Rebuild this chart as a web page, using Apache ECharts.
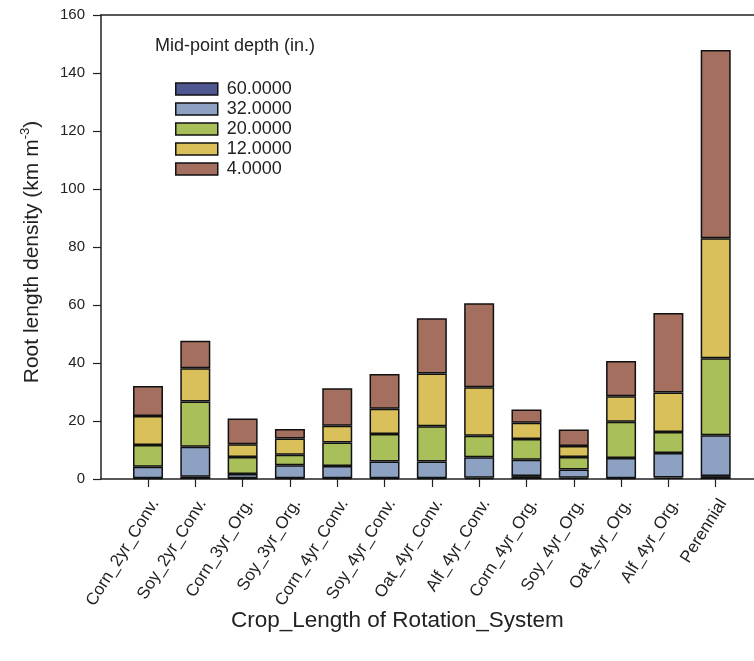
<!DOCTYPE html>
<html>
<head>
<meta charset="utf-8">
<script src="https://cdn.jsdelivr.net/npm/echarts@6/dist/echarts.min.js"></script>
<style>
  html, body { margin: 0; padding: 0; background: #fff; }
  #chart { width: 754px; height: 661px; }
</style>
</head>
<body>
<div id="chart"></div>
<script>
// Crop / rotation systems along the x axis
const categories = [
  'Corn_2yr_Conv.', 'Soy_2yr_Conv.', 'Corn_3yr_Org.', 'Soy_3yr_Org.',
  'Corn_4yr_Conv.', 'Soy_4yr_Conv.', 'Oat_4yr_Conv.', 'Alf_4yr_Conv.',
  'Corn_4yr_Org.', 'Soy_4yr_Org.', 'Oat_4yr_Org.', 'Alf_4yr_Org.', 'Perennial'
];

// Root length density (km m^-3) per mid-point depth layer, stacked bottom to top
const depth60 = [0.3, 0.8, 0.3, 0.3, 0.3, 0.3, 0.3, 0.4, 1.0, 0.4, 0.3, 0.5, 1.0];
const depth32 = [3.9, 10.3, 1.4, 4.4, 4.2, 5.7, 5.7, 7.1, 5.6, 2.9, 6.9, 8.5, 14.1];
const depth20 = [7.5, 15.6, 5.9, 3.7, 8.1, 9.5, 12.2, 7.4, 7.2, 4.3, 12.5, 7.2, 26.5];
const depth12 = [10.0, 11.5, 4.4, 5.6, 5.8, 8.7, 18.2, 16.7, 5.6, 3.8, 8.8, 13.6, 41.4];
const depth4  = [10.4, 9.5, 8.9, 3.2, 12.9, 12.0, 19.0, 29.0, 4.6, 5.7, 12.2, 27.4, 64.9];

const yMin = 0, yMax = 160, yStep = 20;

const layers = [
  { name: '60.0000', values: depth60, color: '#4e5790' },
  { name: '32.0000', values: depth32, color: '#8da2c2' },
  { name: '20.0000', values: depth20, color: '#a9bf5a' },
  { name: '12.0000', values: depth12, color: '#d9c05a' },
  { name: '4.0000',  values: depth4,  color: '#a46f5f' }
];

const font = 'Liberation Sans, Arial, sans-serif';
const ink = '#222';

const chart = echarts.init(document.getElementById('chart'), null, { renderer: 'canvas' });

chart.setOption({
  backgroundColor: '#ffffff',
  animation: false,
  textStyle: { fontFamily: font },
  title: [
    {
      text: 'Mid-point depth (in.)',
      left: 150, top: 32,
      textStyle: { fontSize: 18, fontWeight: 'normal', color: ink, fontFamily: font }
    },
    {
      text: 'Crop_Length of Rotation_System',
      left: 226, top: 604,
      textStyle: { fontSize: 22.5, fontWeight: 'normal', color: ink, fontFamily: font }
    }
  ],
  legend: {
    orient: 'vertical',
    left: 170, top: 74,
    icon: 'rect',
    itemWidth: 42, itemHeight: 12, itemGap: 0,
    data: layers.map(l => l.name),
    textStyle: { fontSize: 18, color: ink, fontFamily: font, lineHeight: 20, padding: [0, 0, 0, 4] },
    itemStyle: { borderColor: '#111', borderWidth: 1.5 }
  },
  grid: [
    // frame: axis lines and y scale
    { left: 101, right: 0, top: 15, bottom: 182 },
    // bar area, categories spaced as in the plot
    { left: 124.35, right: 14.65, top: 15, bottom: 182 }
  ],
  xAxis: [
    {
      type: 'value', gridIndex: 0, min: 0, max: 1,
      position: 'bottom',
      splitLine: { show: false },
      axisLine: { show: true, onZero: false, lineStyle: { color: ink, width: 1.5 } },
      axisTick: { show: false },
      axisLabel: { show: false }
    },
    {
      type: 'value', gridIndex: 0, min: 0, max: 1,
      position: 'top',
      splitLine: { show: false },
      axisLine: { show: true, onZero: false, lineStyle: { color: ink, width: 1.5 } },
      axisTick: { show: false },
      axisLabel: { show: false }
    },
    {
      type: 'category', gridIndex: 1,
      data: categories,
      position: 'bottom',
      axisLine: { show: false },
      axisTick: { show: true, alignWithLabel: true, length: 8, lineStyle: { color: ink, width: 1.2 } },
      axisLabel: {
        interval: 0,
        rotate: 58,
        margin: 17,
        verticalAlign: 'top',
        fontSize: 17,
        color: ink,
        fontFamily: font
      }
    }
  ],
  yAxis: [
    {
      type: 'value', gridIndex: 0,
      min: yMin, max: yMax, interval: yStep,
      splitLine: { show: false },
      axisLine: { show: true, lineStyle: { color: ink, width: 1.5 } },
      axisTick: { show: true, length: 8, lineStyle: { color: ink, width: 1.2 } },
      axisLabel: { fontSize: 15, color: ink, margin: 16, fontFamily: font },
      name: '{a|Root length density (km m}{s|-3}{a|)}',
      nameLocation: 'middle',
      nameGap: 56,
      nameRotate: 90,
      nameTextStyle: {
        padding: [0, 10, 0, 0],
        rich: {
          a: { fontSize: 21, color: ink, fontFamily: font, lineHeight: 26 },
          s: { fontSize: 13, color: ink, fontFamily: font, verticalAlign: 'top', lineHeight: 26 }
        }
      }
    },
    {
      type: 'value', gridIndex: 1,
      min: yMin, max: yMax, interval: yStep,
      show: false
    }
  ],
  series: layers.map(l => ({
    name: l.name,
    type: 'bar',
    stack: 'depth',
    xAxisIndex: 2,
    yAxisIndex: 1,
    barWidth: 30,
    itemStyle: { color: l.color, borderColor: '#111', borderWidth: 1.5 },
    data: l.values
  }))
});
</script>
</body>
</html>
